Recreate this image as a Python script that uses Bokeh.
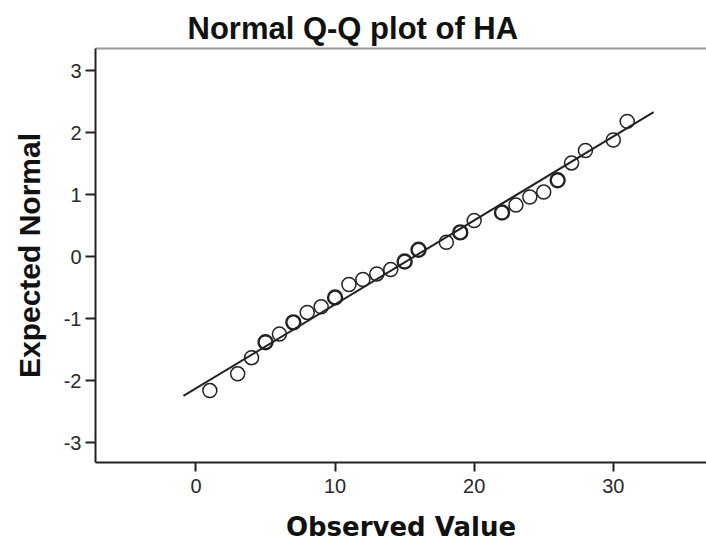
from bokeh.plotting import figure
from bokeh.models import FixedTicker, ColumnDataSource, Range1d, LinearAxis
from bokeh.embed import file_html
from bokeh.resources import INLINE

# Observed values (distinct) and their expected normal quantiles
observed = [1, 3, 4, 5, 6, 7, 8, 9, 10, 11, 12, 13, 14, 15, 16, 18, 19, 20,
            22, 23, 24, 25, 26, 27, 28, 30, 31]
expected = [-2.16, -1.89, -1.63, -1.38, -1.25, -1.06, -0.90, -0.81, -0.66,
            -0.45, -0.37, -0.28, -0.21, -0.08, 0.11, 0.23, 0.39, 0.58, 0.71,
            0.83, 0.96, 1.04, 1.23, 1.51, 1.71, 1.88, 2.18]
ties = [1, 1, 1, 2, 1, 2, 1, 1, 2, 1, 1, 1, 1, 2, 2, 1, 2, 1, 2, 1, 1, 1, 2,
        1, 1, 1, 1]

# Reference line: expected = (x - mean) / sd
fit_mean = 15.69
fit_sd = 7.385
line_x = [-0.9, 32.9]

x_ticks = [0, 10, 20, 30]
y_ticks = [-3, -2, -1, 0, 1, 2, 3]

line_y = [(v - fit_mean) / fit_sd for v in line_x]

p = figure(width=706, height=557, output_backend="svg", toolbar_location=None,
           x_range=Range1d(-7.22, 36.7), y_range=Range1d(-3.32, 3.355),
           title="Normal Q-Q plot of HA")
p.min_border_left = 95
p.min_border_right = 0
p.min_border_top = 48
p.min_border_bottom = 95

p.title.text_font = "Liberation Sans"
p.title.text_font_size = "31px"
p.title.text_font_style = "bold"
p.title.align = "left"
p.title.offset = 92
p.title.text_color = "#111111"
p.title.standoff = 5

p.background_fill_color = "white"
p.border_fill_color = "white"
p.outline_line_color = None
p.xgrid.visible = False
p.ygrid.visible = False

xa = p.below[0]
ya = p.left[0]

# top frame line only (the frame runs off the right edge in the original)
top = LinearAxis(ticker=FixedTicker(ticks=[]), axis_line_color="#999999",
                 axis_line_width=2, major_tick_line_color=None,
                 minor_tick_line_color=None, major_label_text_font_size="0px",
                 major_label_standoff=0)
p.add_layout(top, "above")

for ax in (xa, ya):
    ax.axis_line_width = 2
    ax.axis_line_color = "#222222"
    ax.major_tick_line_width = 2
    ax.major_tick_line_color = "#222222"
    ax.major_tick_in = 0
    ax.minor_tick_line_color = None
    ax.major_label_text_font = "Liberation Sans"
    ax.major_label_text_font_size = "20px"
    ax.major_label_text_color = "#2a2a2a"

xa.ticker = FixedTicker(ticks=x_ticks)
ya.ticker = FixedTicker(ticks=y_ticks)
xa.major_label_overrides = {t: str(t) for t in x_ticks}
ya.major_label_overrides = {t: str(t) for t in y_ticks}
xa.major_tick_out = 9
ya.major_tick_out = 10
xa.major_label_standoff = 7
ya.major_label_standoff = 4

xa.axis_label = "Observed Value"
xa.axis_label_text_font = "DejaVu Sans"
xa.axis_label_text_font_style = "bold"
xa.axis_label_text_font_size = "26px"
xa.axis_label_text_color = "#111111"
xa.axis_label_standoff = 16

ya.axis_label = "Expected Normal"
ya.axis_label_text_font = "Liberation Sans"
ya.axis_label_text_font_style = "bold"
ya.axis_label_text_font_size = "30px"
ya.axis_label_text_color = "#111111"
ya.axis_label_standoff = 15

p.line(line_x, line_y, line_color="#222222", line_width=2)

src = ColumnDataSource(dict(x=observed, y=expected,
                            lw=[1.5 + 0.9 * (t - 1) for t in ties]))
p.scatter("x", "y", source=src, marker="circle", size=14, fill_alpha=0,
          line_color="#222222", line_width="lw")

open("out.html", "w").write(file_html(p, INLINE))
